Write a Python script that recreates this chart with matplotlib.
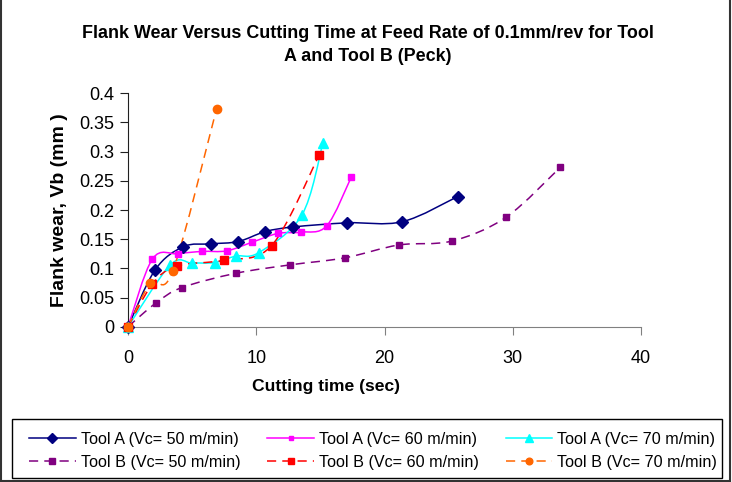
import numpy as np
import matplotlib
matplotlib.use('Agg')
import matplotlib.pyplot as plt
from matplotlib.path import Path
from matplotlib.patches import PathPatch, Rectangle
from matplotlib.lines import Line2D

plt.rcParams['font.family'] = ['Liberation Sans', 'DejaVu Sans']

# cutting time (sec) / flank wear Vb (mm)
a50_x = [0, 2.1, 4.3, 6.5, 8.6, 10.7, 12.9, 17.1, 21.4, 25.7]
a50_y = [0, 0.097, 0.137, 0.142, 0.146, 0.163, 0.171, 0.178, 0.180, 0.223]
a60_x = [0, 1.9, 3.9, 5.8, 7.7, 9.7, 11.7, 13.5, 15.5, 17.4]
a60_y = [0, 0.116, 0.125, 0.129, 0.130, 0.145, 0.160, 0.162, 0.173, 0.256]
a70_x = [0, 3.3, 5.0, 6.75, 8.4, 10.2, 13.55, 15.2]
a70_y = [0, 0.106, 0.109, 0.110, 0.121, 0.127, 0.191, 0.315]
b50_x = [0, 2.2, 4.2, 8.4, 12.65, 16.9, 21.1, 25.3, 29.5, 33.7]
b50_y = [0, 0.041, 0.067, 0.0915, 0.106, 0.118, 0.140, 0.147, 0.188, 0.273]
b60_x = [0, 1.9, 3.8, 7.5, 11.2, 14.9]
b60_y = [0, 0.073, 0.104, 0.114, 0.139, 0.294]
b70_x = [0, 1.75, 3.5, 6.9]
b70_y = [0, 0.075, 0.096, 0.373]

labels = ['Tool A (Vc= 50 m/min)', 'Tool A (Vc= 60 m/min)', 'Tool A (Vc= 70 m/min)',
          'Tool B (Vc= 50 m/min)', 'Tool B (Vc= 60 m/min)', 'Tool B (Vc= 70 m/min)']


def smooth_path(xs, ys):
    # excel-like smoothed line : bezier segments (catmull-rom)
    pts = np.column_stack([xs, ys]).astype(float)
    n = len(pts)
    verts = [pts[0]]
    codes = [Path.MOVETO]
    for i in range(n - 1):
        p0 = pts[max(i - 1, 0)]
        p1 = pts[i]
        p2 = pts[i + 1]
        p3 = pts[min(i + 2, n - 1)]
        verts += [p1 + (p2 - p0) / 6, p2 - (p3 - p1) / 6, p2]
        codes += [Path.CURVE4] * 3
    return Path(verts, codes)


series = [
    (a50_x, a50_y, '#000080', '-', 'D', 5.8),
    (a60_x, a60_y, '#FF00FF', '-', 's', 3.8),
    (a70_x, a70_y, '#00FFFF', '-', '^', 7.5),
    (b50_x, b50_y, '#800080', (0, (6, 4)), 's', 5),
    (b60_x, b60_y, '#FF0000', (0, (6, 4)), 's', 5.2),
    (b70_x, b70_y, '#FF6600', (0, (6, 4)), 'o', 6),
]

fig = plt.figure(figsize=(7.32, 4.82), dpi=100)
ax = fig.add_axes([0.1749, 0.3222, 0.7008, 0.4842])

handles = []
for (xs, ys, c, ls, m, ms), lab in zip(series, labels):
    ax.add_patch(PathPatch(smooth_path(xs, ys), fill=False, edgecolor=c,
                           lw=1.1, linestyle=ls, clip_on=False))
    ax.plot(xs, ys, linestyle='none', marker=m, ms=ms, color=c, clip_on=False, zorder=3)
    handles.append(Line2D([], [], color=c, lw=1.1, linestyle=ls, marker=m, ms=ms * 0.8, label=lab))

ax.set_xlim(0, 40)
ax.set_ylim(0, 0.4)
ax.set_xticks([0, 10, 20, 30, 40])
ax.set_yticks(np.arange(0, 0.41, 0.05))
ax.set_yticklabels(['0', '0.05', '0.1', '0.15', '0.2', '0.25', '0.3', '0.35', '0.4'])
ax.spines['top'].set_visible(False)
ax.spines['right'].set_visible(False)
ax.spines['bottom'].set_color('#808080')
ax.spines['left'].set_color('#202020')
ax.tick_params(axis='x', direction='out', length=6, pad=11, labelsize=13, color='#808080')
ax.tick_params(axis='y', direction='out', length=6, pad=4, labelsize=13, color='#202020')

ax.set_xlabel('Cutting time (sec)', fontsize=12.6, fontweight='bold')
ax.xaxis.set_label_coords(0.386, -0.222)
ax.set_ylabel('Flank wear, Vb (mm )', fontsize=14, fontweight='bold')
ax.yaxis.set_label_coords(-0.117, 0.5)

fig.text(0.503, 1 - 25 / 482, 'Flank Wear Versus Cutting Time at Feed Rate of 0.1mm/rev for Tool\nA and Tool B (Peck)',
         ha='center', va='top', fontsize=12.9, fontweight='bold', linespacing=1.48)

# legend order so the rows read A then B
order = [0, 3, 1, 4, 2, 5]
fig.legend([handles[i] for i in order], [labels[i] for i in order], ncol=3,
           loc='center', bbox_to_anchor=(29 / 732, 1 - 451 / 482, 688 / 732, 0), mode='expand',
           fontsize=11.6, handlelength=2.9, handletextpad=0.3, frameon=False,
           borderaxespad=0, labelspacing=0.5, borderpad=0)
fig.add_artist(Rectangle((12 / 732, 1 - 478 / 482), 710 / 732, 59 / 482, transform=fig.transFigure,
                         fill=False, edgecolor='black', lw=1.0))

# outer chart border
fig.add_artist(Line2D([0.002, 0.002], [0.002, 1], transform=fig.transFigure, color='#333333', lw=1.5))
fig.add_artist(Line2D([0.997, 0.997], [0.002, 1], transform=fig.transFigure, color='#333333', lw=1.5))
fig.add_artist(Line2D([0.002, 0.997], [0.003, 0.003], transform=fig.transFigure, color='#333333', lw=1.5))

fig.savefig('out.png', dpi=100)
